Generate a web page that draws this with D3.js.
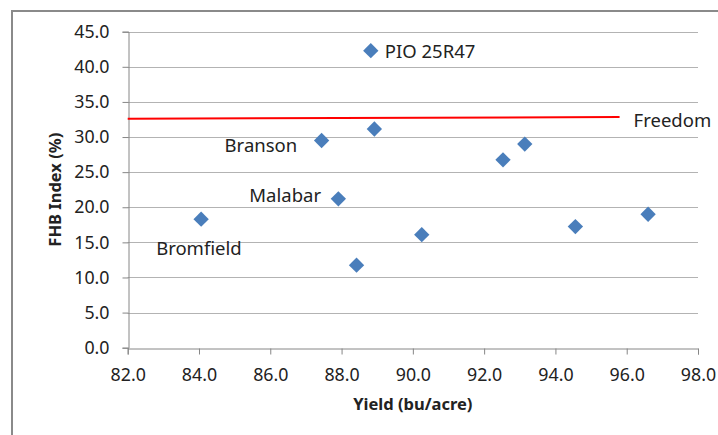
<!DOCTYPE html>
<html><head><meta charset="utf-8">
<script src="https://cdn.jsdelivr.net/npm/d3@7"></script>
<style>
html,body{margin:0;padding:0;background:#fff;}
svg{display:block;}
text{font-family:"Noto Sans","Open Sans",sans-serif;fill:#222;}
</style></head>
<body>
<svg id="chart" width="718" height="435"></svg>
<script>
// Data
const varieties = ["Bromfield","Malabar","Branson","", "PIO 25R47","","","","","",""];
const yieldVals = [84.06, 87.91, 87.44, 88.92, 88.82, 88.42, 90.25, 92.53, 93.14, 94.56, 96.6];
const fhbVals   = [18.3, 21.2, 29.5, 31.15, 42.3, 11.75, 16.1, 26.75, 29.0, 17.25, 19.0];
const freedomYield = [82.0, 95.8];
const freedomFhb = [32.6, 32.85];
const freedomLabel = "Freedom";
const xTicks = [82,84,86,88,90,92,94,96,98];
const yTicks = [0,5,10,15,20,25,30,35,40,45];
const xTitle = "Yield (bu/acre)";
const yTitle = "FHB Index (%)";
// label offsets (pixels) relative to the marker: [dx, dy, anchor]
const labelPos = {
  "Bromfield": [-45, 36, "start"],
  "Malabar": [-89, 3, "start"],
  "Branson": [-97, 11, "start"],
  "PIO 25R47": [14, 7.5, "start"]
};

const svg = d3.select("#chart");
const L = 127.7, R = 698, T = 31.7, B = 347.7;
const x = d3.scaleLinear().domain([82,98]).range([L,R]);
const y = d3.scaleLinear().domain([0,45]).range([B,T]);

// outer border
svg.append("rect").attr("x",12).attr("y",11).attr("width",720).attr("height",440)
  .attr("fill","none").attr("stroke","#8a8a8a").attr("stroke-width",2);

// gridlines
svg.append("g").selectAll("line").data(yTicks.filter(d=>d>0)).join("line")
  .attr("x1",L).attr("x2",R).attr("y1",d=>Math.round(y(d))+0.5).attr("y2",d=>Math.round(y(d))+0.5)
  .attr("stroke","#b3b3b3").attr("stroke-width",1.2);

// y axis
const yAxis = svg.append("g").attr("transform",`translate(${Math.round(L)+0.5},0)`)
  .call(d3.axisLeft(y).tickValues(yTicks).tickFormat(d3.format(".1f")).tickSizeOuter(0).tickSize(6).tickPadding(13));
yAxis.select(".domain").attr("stroke","#868686");
yAxis.selectAll(".tick line").attr("stroke","#868686");
yAxis.selectAll("text").attr("font-size",17.8).attr("fill","#333").style("font-family","'Noto Sans',sans-serif");

// x axis
const xAxis = svg.append("g").attr("transform",`translate(0,${Math.round(B)+0.5})`)
  .call(d3.axisBottom(x).tickValues(xTicks).tickFormat(d3.format(".1f")).tickSizeOuter(0).tickSize(6).tickPadding(14));
xAxis.select(".domain").attr("stroke","#868686");
xAxis.selectAll(".tick line").attr("stroke","#868686");
xAxis.selectAll("text").attr("font-size",17.8).attr("fill","#333").style("font-family","'Noto Sans',sans-serif");

// titles
svg.append("text").attr("x",(L+R)/2).attr("y",410).attr("text-anchor","middle")
  .attr("font-size",16.5).attr("font-weight","bold").text(xTitle);
svg.append("text").attr("transform",`translate(61,${(T+B)/2}) rotate(-90)`).attr("text-anchor","middle")
  .attr("font-size",16.5).attr("font-weight","bold").text(yTitle);

// Freedom line
const line = d3.line().x(d=>x(d[0])).y(d=>y(d[1]));
svg.append("path").datum(freedomYield.map((v,i)=>[v,freedomFhb[i]]))
  .attr("d",line).attr("fill","none").attr("stroke","#ff0000").attr("stroke-width",2);
svg.append("text").attr("x",x(freedomYield[1])+14).attr("y",y(freedomFhb[1])+10)
  .attr("font-size",18.5).text(freedomLabel);

// markers
const pts = yieldVals.map((v,i)=>({x:v,y:fhbVals[i],name:varieties[i]}));
const sym = d3.symbol().type(d3.symbolDiamond2).size(150);
svg.append("g").selectAll("path").data(pts).join("path")
  .attr("transform",d=>`translate(${x(d.x)},${y(d.y)})`)
  .attr("d",sym).attr("fill","#4a7ebb");

// labels
svg.append("g").selectAll("text").data(pts.filter(d=>d.name)).join("text")
  .attr("x",d=>x(d.x)+labelPos[d.name][0])
  .attr("y",d=>y(d.y)+labelPos[d.name][1])
  .attr("text-anchor",d=>labelPos[d.name][2])
  .attr("font-size",18.5).text(d=>d.name);
</script>
</body></html>
